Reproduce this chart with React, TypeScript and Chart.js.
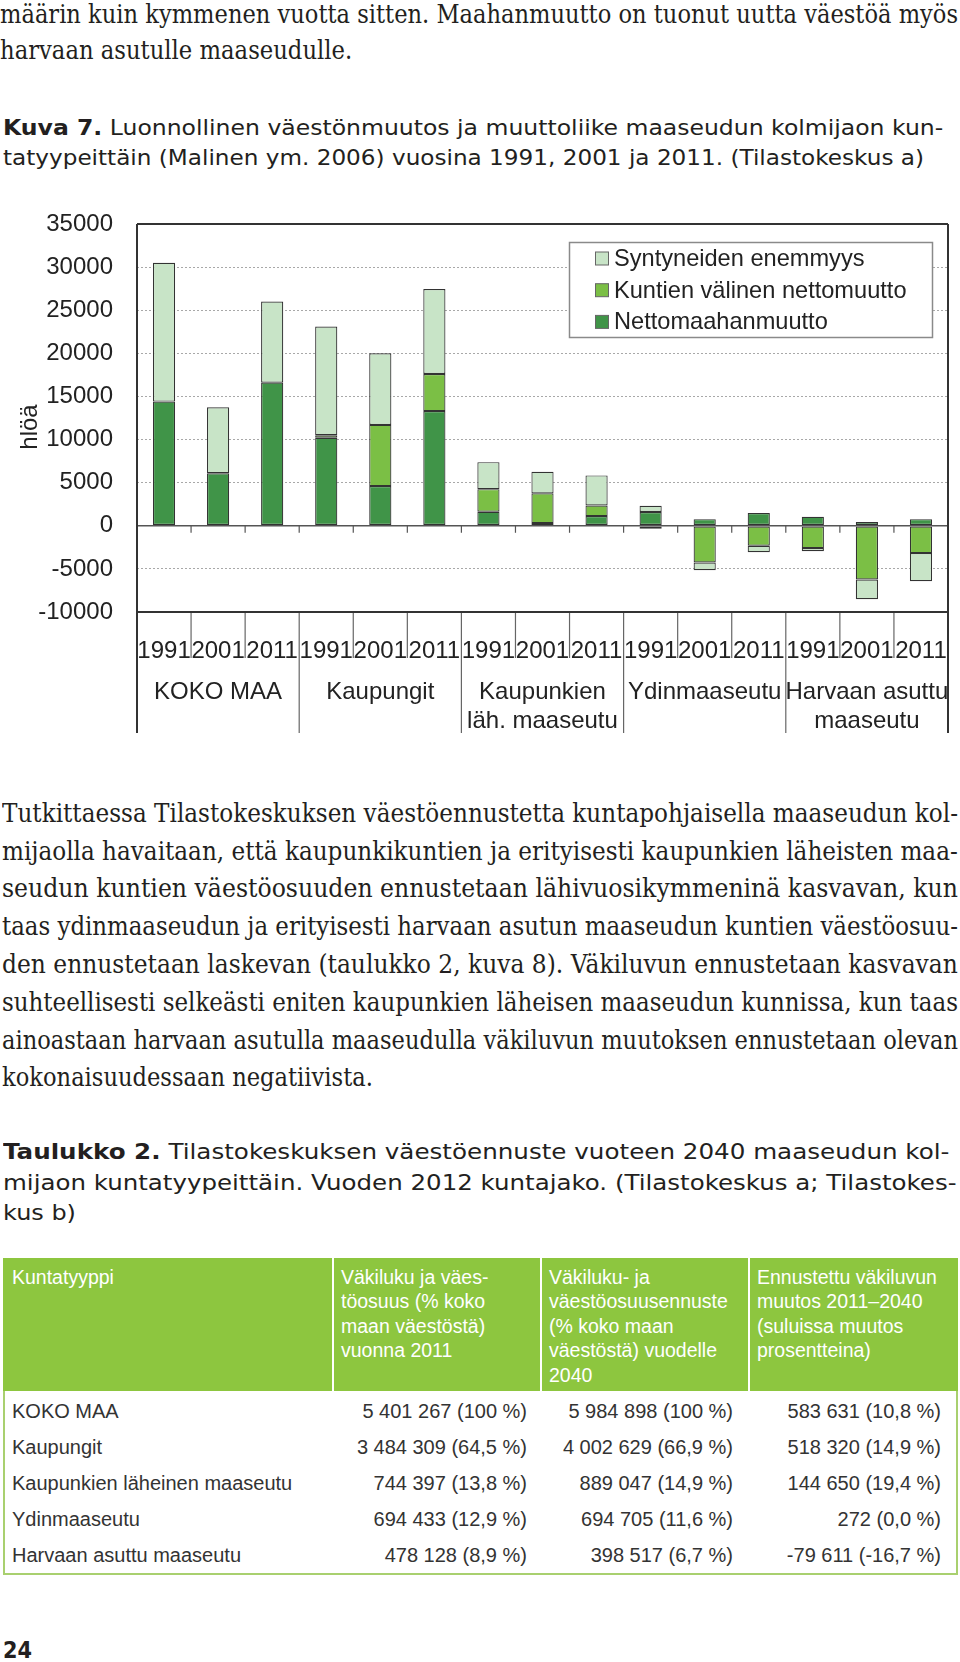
import React, { useEffect, useLayoutEffect, useRef } from 'react';
import { Chart, registerables } from 'chart.js';

Chart.register(...registerables);

// ---------- chart data ----------
const years = ['1991', '2001', '2011'];
const groupNames = [
  ['KOKO MAA'],
  ['Kaupungit'],
  ['Kaupunkien', 'läh. maaseutu'],
  ['Ydinmaaseutu'],
  ['Harvaan asuttu', 'maaseutu'],
];
const categoryLabels = groupNames.flatMap(() => years);

const seriesNames = ['Nettomaahanmuutto', 'Kuntien välinen nettomuutto', 'Syntyneiden enemmyys'];
const nettomaahanmuutto = [14400, 6100, 16600, 10200, 4600, 13300, 1620, 310, 1120, 1600, 770, 1470, 1040, 430, 770];
const kuntienValinen = [0, 0, 0, 300, 7100, 4300, 2630, 3450, 1240, -350, -4260, -2320, -2590, -6230, -3170];
const syntyneiden = [16100, 7650, 9400, 12600, 8300, 9850, 3130, 2510, 3480, 720, -890, -740, -350, -2280, -3250];
const yMin = -10000;
const yMax = 35000;
const yStep = 5000;
const yTitle = 'hlöä';

// ---------- table data ----------
const tableHeaders = [
  ['Kuntatyyppi'],
  ['Väkiluku ja väes-', 'töosuus (% koko', 'maan väestöstä)', 'vuonna 2011'],
  ['Väkiluku- ja', 'väestöosuusennuste', '(% koko maan', 'väestöstä) vuodelle', '2040'],
  ['Ennustettu väkiluvun', 'muutos 2011–2040', '(suluissa muutos', 'prosentteina)'],
];
const kuntatyypit = ['KOKO MAA', 'Kaupungit', 'Kaupunkien läheinen maaseutu', 'Ydinmaaseutu', 'Harvaan asuttu maaseutu'];
const vakiluku2011 = ['5 401 267 (100 %)', '3 484 309 (64,5 %)', '744 397 (13,8 %)', '694 433 (12,9 %)', '478 128 (8,9 %)'];
const ennuste2040 = ['5 984 898 (100 %)', '4 002 629 (66,9 %)', '889 047 (14,9 %)', '694 705 (11,6 %)', '398 517 (6,7 %)'];
const muutos = ['583 631 (10,8 %)', '518 320 (14,9 %)', '144 650 (19,4 %)', '272 (0,0 %)', '-79 611 (-16,7 %)'];

// ---------- text ----------
const introLines = [
  'määrin kuin kymmenen vuotta sitten. Maahanmuutto on tuonut uutta väestöä myös',
  'harvaan asutulle maaseudulle.',
];
const bodyLines = [
  'Tutkittaessa Tilastokeskuksen väestöennustetta kuntapohjaisella maaseudun kol-',
  'mijaolla havaitaan, että kaupunkikuntien ja erityisesti kaupunkien läheisten maa-',
  'seudun kuntien väestöosuuden ennustetaan lähivuosikymmeninä kasvavan, kun',
  'taas ydinmaaseudun ja erityisesti harvaan asutun maaseudun kuntien väestöosuu-',
  'den ennustetaan laskevan (taulukko 2, kuva 8). Väkiluvun ennustetaan kasvavan',
  'suhteellisesti selkeästi eniten kaupunkien läheisen maaseudun kunnissa, kun taas',
  'ainoastaan harvaan asutulla maaseudulla väkiluvun muutoksen ennustetaan olevan',
  'kokonaisuudessaan negatiivista.',
];

const SANS = '"Liberation Sans", Arial, Helvetica, sans-serif';
const SERIF = '"DejaVu Serif", "Liberation Serif", serif';
const TECH = '"DejaVu Sans", "Liberation Sans", sans-serif';
const DARK = '#409448';
const MEDIUM = '#7bbf45';
const LIGHT = '#c8e4c7';
const TEXT = '#231f20';

function FitLine(props: { x: number; y: number; w: number; size: number; family: string; color?: string; weight?: number; children: React.ReactNode }) {
  const outer = useRef<HTMLDivElement>(null);
  const inner = useRef<HTMLSpanElement>(null);
  useLayoutEffect(() => {
    const fit = () => {
      const el = inner.current;
      if (!el) return;
      el.style.transform = 'none';
      const nat = el.offsetWidth;
      if (nat > 0) el.style.transform = `scaleX(${props.w / nat})`;
    };
    fit();
    const fonts = (document as any).fonts;
    if (fonts && fonts.ready) fonts.ready.then(fit);
  });
  return (
    <div
      ref={outer}
      style={{
        position: 'absolute',
        left: props.x,
        top: props.y - props.size * 0.62,
        width: 2000,
        height: props.size * 1.2,
        overflow: 'visible',
      }}
    >
      <span
        ref={inner}
        style={{
          display: 'inline-block',
          whiteSpace: 'nowrap',
          fontFamily: props.family,
          fontSize: props.size,
          fontWeight: props.weight ?? 400,
          lineHeight: `${props.size * 1.2}px`,
          color: props.color ?? TEXT,
          transformOrigin: '0px 50%',
        }}
      >
        {props.children}
      </span>
    </div>
  );
}

const framePlugin = {
  id: 'frameAndLegend',
  afterDraw(chart: any) {
    const { ctx, chartArea, scales } = chart;
    const { left, right, top, bottom } = chartArea;
    const x = scales.x;
    const y = scales.y;
    const n = chart.data.labels.length;
    const step = x.getPixelForValue(1) - x.getPixelForValue(0);
    const boundary = (i: number) => x.getPixelForValue(i) - step / 2;
    const line = (x1: number, y1: number, x2: number, y2: number) => {
      ctx.beginPath();
      ctx.moveTo(x1, y1);
      ctx.lineTo(x2, y2);
      ctx.stroke();
    };
    ctx.save();
    // separators below plot
    ctx.strokeStyle = '#666';
    ctx.lineWidth = 1.2;
    for (let i = 1; i < n; i++) {
      const bx = boundary(i);
      line(bx, bottom, bx, bottom + (i % 3 === 0 ? 121 : 46));
    }
    // small ticks on zero line
    const y0 = y.getPixelForValue(0);
    ctx.strokeStyle = '#555';
    for (let i = 1; i < n; i++) {
      const bx = boundary(i);
      line(bx, y0, bx, y0 + 7);
    }
    // frame
    ctx.strokeStyle = '#333';
    ctx.lineWidth = 2;
    line(left, top, right, top);
    line(left, bottom, right, bottom);
    line(left, top, left, bottom + 121);
    line(right, top, right, bottom + 121);

    // group labels
    ctx.fillStyle = '#222';
    ctx.font = `24px ${SANS}`;
    ctx.textAlign = 'center';
    ctx.textBaseline = 'middle';
    groupNames.forEach((g, gi) => {
      const cx = x.getPixelForValue(gi * 3 + 1);
      g.forEach((t, li) => ctx.fillText(t, cx, bottom + 80 + li * 29));
    });

    // y title
    ctx.save();
    ctx.translate(36.5, (top + bottom) / 2 + 9);
    ctx.rotate(-Math.PI / 2);
    ctx.textAlign = 'center';
    ctx.textBaseline = 'alphabetic';
    ctx.fillText(yTitle, 0, 0);
    ctx.restore();

    // legend
    const lx = 569.5, ly = 42.5, lw = 363, lh = 95;
    ctx.fillStyle = '#fff';
    ctx.fillRect(lx, ly, lw, lh);
    ctx.strokeStyle = '#8a8a8a';
    ctx.lineWidth = 1.5;
    ctx.strokeRect(lx, ly, lw, lh);
    const order = [2, 1, 0];
    ctx.font = `23.6px ${SANS}`;
    ctx.textAlign = 'left';
    ctx.textBaseline = 'middle';
    order.forEach((di, k) => {
      const ds = chart.data.datasets[di];
      const ry = ly + 16 + k * 31.7;
      ctx.fillStyle = ds.backgroundColor;
      ctx.fillRect(595.5, ry - 6.5, 13, 13);
      ctx.strokeStyle = '#666';
      ctx.lineWidth = 1;
      ctx.strokeRect(595.5, ry - 6.5, 13, 13);
      ctx.fillStyle = '#222';
      ctx.fillText(ds.label, 614, ry + 1);
    });
    ctx.restore();
  },
};

function ChartBox() {
  const canvasRef = useRef<HTMLCanvasElement>(null);
  useEffect(() => {
    const canvas = canvasRef.current!;
    const chart = new Chart(canvas, {
      type: 'bar',
      data: {
        labels: categoryLabels,
        datasets: [
          { label: seriesNames[0], data: nettomaahanmuutto, backgroundColor: DARK },
          { label: seriesNames[1], data: kuntienValinen, backgroundColor: MEDIUM },
          { label: seriesNames[2], data: syntyneiden, backgroundColor: LIGHT },
        ],
      },
      options: {
        animation: false,
        responsive: false,
        devicePixelRatio: 1,
        layout: { padding: { top: 24, right: 12, left: 0, bottom: 0 } },
        plugins: { legend: { display: false }, tooltip: { enabled: false } },
        datasets: {
          bar: {
            barPercentage: 0.41,
            categoryPercentage: 1,
            borderWidth: 1.2,
            borderColor: '#333',
            borderSkipped: false,
          },
        },
        scales: {
          x: {
            stacked: true,
            grid: { display: false },
            border: { display: false },
            ticks: {
              autoSkip: false,
              maxRotation: 0,
              minRotation: 0,
              padding: 16.6,
              color: '#222',
              font: { size: 24, family: SANS },
            },
            afterFit: (s: any) => {
              s.height = 128;
              s.paddingLeft = 0;
              s.paddingRight = 0;
            },
          },
          y: {
            stacked: true,
            min: yMin,
            max: yMax,
            ticks: {
              stepSize: yStep,
              padding: 24,
              color: '#222',
              font: { size: 24, family: SANS },
              callback: (v: any) => String(v),
            },
            grid: {
              drawTicks: false,
              color: (c: any) => (c.tick && c.tick.value === 0 ? '#555' : '#a8a8a8'),
              lineWidth: (c: any) => (c.tick && c.tick.value === 0 ? 1.5 : 1),
            },
            border: {
              display: false,
              dash: (c: any) => (c.tick && c.tick.value === 0 ? [] : [2, 2]),
            },
            afterFit: (s: any) => {
              s.width = 137;
              s.paddingTop = 0;
              s.paddingBottom = 0;
            },
          },
        },
      },
      plugins: [framePlugin],
    } as any);
    return () => chart.destroy();
  }, []);
  return (
    <canvas
      ref={canvasRef}
      width={960}
      height={540}
      style={{ position: 'absolute', left: 0, top: 200, width: 960, height: 540 }}
    />
  );
}

export default function App() {
  const headerX = [12, 341, 549, 757];
  const sepX = [332, 540, 748];
  const rowY = [1411, 1447, 1483.5, 1519.5, 1555.5];
  const numRight = [527, 733, 941];
  const cols = [vakiluku2011, ennuste2040, muutos];
  return (
    <div style={{ position: 'absolute', left: 0, top: 0, width: 960, height: 1662, overflow: 'hidden', background: '#fff' }}>
      <FitLine x={0} y={15} w={958} size={26} family={SERIF}>{introLines[0]}</FitLine>
      <FitLine x={0} y={51} w={352} size={26} family={SERIF}>{introLines[1]}</FitLine>

      <FitLine x={3} y={129} w={940} size={21} family={TECH}>
        <b>Kuva 7.</b> Luonnollinen väestönmuutos ja muuttoliike maaseudun kolmijaon kun-
      </FitLine>
      <FitLine x={3} y={159} w={921} size={21} family={TECH}>
        tatyypeittäin (Malinen ym. 2006) vuosina 1991, 2001 ja 2011. (Tilastokeskus a)
      </FitLine>

      <ChartBox />

      {bodyLines.map((t, i) => (
        <FitLine key={i} x={2} y={814 + i * 37.8} w={i === bodyLines.length - 1 ? 371 : 956} size={26} family={SERIF}>
          {t}
        </FitLine>
      ))}

      <FitLine x={3} y={1153} w={946} size={21} family={TECH}>
        <b>Taulukko 2.</b> Tilastokeskuksen väestöennuste vuoteen 2040 maaseudun kol-
      </FitLine>
      <FitLine x={3} y={1184} w={954} size={21} family={TECH}>
        mijaon kuntatyypeittäin. Vuoden 2012 kuntajako. (Tilastokeskus a; Tilastokes-
      </FitLine>
      <FitLine x={3} y={1214} w={73} size={21} family={TECH}>
        kus b)
      </FitLine>

      {/* table header */}
      <div style={{ position: 'absolute', left: 3, top: 1258, width: 955, height: 133, background: '#8dc63f' }} />
      {sepX.map((sx, i) => (
        <div key={i} style={{ position: 'absolute', left: sx, top: 1258, width: 1.5, height: 133, background: '#fff' }} />
      ))}
      {tableHeaders.map((lines, ci) => (
        <div
          key={ci}
          style={{
            position: 'absolute',
            left: headerX[ci],
            top: 1265,
            fontFamily: SANS,
            fontSize: 19.5,
            lineHeight: '24.4px',
            color: '#fff',
            whiteSpace: 'nowrap',
          }}
        >
          {lines.map((l, li) => (
            <div key={li}>{l}</div>
          ))}
        </div>
      ))}
      {/* table body */}
      <div style={{ position: 'absolute', left: 3, top: 1391, width: 951, height: 182, border: '2px solid #a9d06f', borderTop: 'none' }} />
      {kuntatyypit.map((k, ri) => (
        <div
          key={'l' + ri}
          style={{ position: 'absolute', left: 12, top: rowY[ri] - 12.5, fontFamily: SANS, fontSize: 20, lineHeight: '24px', color: '#333', whiteSpace: 'nowrap' }}
        >
          {k}
        </div>
      ))}
      {cols.map((col, ci) =>
        col.map((v, ri) => (
          <div
            key={ci + '-' + ri}
            style={{
              position: 'absolute',
              right: 960 - numRight[ci],
              top: rowY[ri] - 12.5,
              fontFamily: SANS,
              fontSize: 20,
              lineHeight: '24px',
              color: '#333',
              whiteSpace: 'nowrap',
              textAlign: 'right',
            }}
          >
            {v}
          </div>
        ))
      )}

      <FitLine x={3} y={1651} w={29} size={23} family={TECH} weight={700}>24</FitLine>
    </div>
  );
}
